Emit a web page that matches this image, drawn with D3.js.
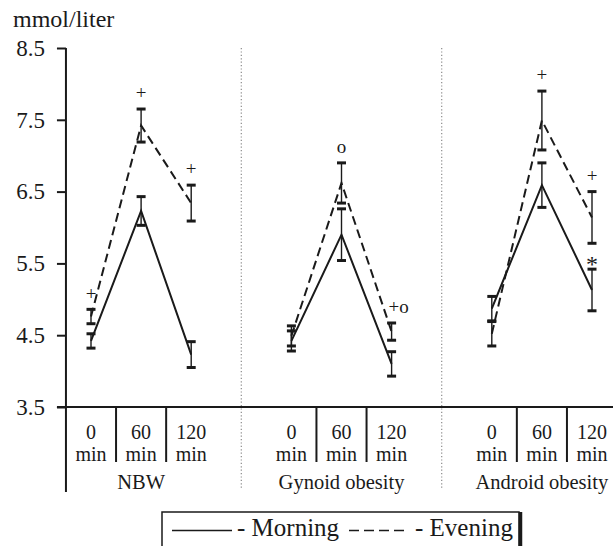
<!DOCTYPE html>
<html>
<head>
<meta charset="utf-8">
<script src="https://cdn.jsdelivr.net/npm/d3@7"></script>
<style>
  body { margin: 0; background: #fff; }
  svg text { font-family: "Liberation Serif", "Times New Roman", serif; fill: #1a1a1a; }
</style>
</head>
<body>
<div id="chart-area"></div>
<script>
// categories
var groups = ["NBW", "Gynoid obesity", "Android obesity"];
var times = ["0", "60", "120"];
var yTicks = [3.5, 4.5, 5.5, 6.5, 7.5, 8.5];

// values per point: NBW 0/60/120, Gynoid 0/60/120, Android 0/60/120
var morningMean = [4.42, 6.23, 4.23, 4.42, 5.90, 4.10, 4.87, 6.59, 5.13];
var morningSE = [0.10, 0.20, 0.18, 0.14, 0.36, 0.17, 0.17, 0.31, 0.29];
var eveningMean = [4.76, 7.42, 6.34, 4.49, 6.62, 4.55, 4.52, 7.49, 6.14];
var eveningSE = [0.10, 0.23, 0.25, 0.14, 0.28, 0.12, 0.17, 0.41, 0.36];

// significance marks
var markText = ["+", "+", "+", "o", "+o", "+", "+", "*"];
var markSeries = ["Evening", "Evening", "Evening", "Evening", "Evening", "Evening", "Evening", "Morning"];
var markPoint = [0, 1, 2, 4, 5, 7, 8, 8];

var series = [
  { name: "Morning", mean: morningMean, se: morningSE, dash: null },
  { name: "Evening", mean: eveningMean, se: eveningSE, dash: "9,5" }
];

var W = 613, H = 546;
var ink = "#1a1a1a";

// slot = group*4 + time (one empty slot between groups)
function slot(i) {
  return Math.floor(i / 3) * 4 + (i % 3);
}

var x = d3.scaleLinear().domain([0, 10]).range([91, 592]);
var y = d3.scaleLinear().domain([3.5, 8.5]).range([407, 48]);

var svg = d3
  .select("#chart-area")
  .append("svg")
  .attr("width", W)
  .attr("height", H);

var axisX = x(-0.5);

// y axis title
svg.append("text")
  .attr("x", 13)
  .attr("y", 27)
  .attr("font-size", "24px")
  .text("mmol/liter");

// y axis ticks
var yAxis = d3.axisLeft(y)
  .tickValues(yTicks)
  .tickFormat(d3.format(".1f"))
  .tickSize(9)
  .tickPadding(12);

var yg = svg.append("g")
  .attr("transform", "translate(" + axisX + ",0)")
  .call(yAxis);
yg.select(".domain").remove();
yg.selectAll(".tick line").attr("stroke", ink).attr("stroke-width", 2);
yg.selectAll(".tick text")
  .attr("font-size", "23px")
  .attr("font-family", "Liberation Serif, Times New Roman, serif")
  .attr("fill", ink);

// dotted group separators
[3, 7].forEach(function (s) {
  svg.append("line")
    .attr("x1", x(s)).attr("x2", x(s))
    .attr("y1", y(8.5)).attr("y2", 489)
    .attr("stroke", "#8a8a8a")
    .attr("stroke-width", 1.2)
    .attr("stroke-dasharray", "1.2,2.2");
});

// left axis line, extended into label area
svg.append("line")
  .attr("x1", axisX).attr("x2", axisX)
  .attr("y1", y(8.5)).attr("y2", 492)
  .attr("stroke", ink).attr("stroke-width", 2);

// baseline at 3.5
svg.append("line")
  .attr("x1", axisX - 9).attr("x2", W)
  .attr("y1", y(3.5)).attr("y2", y(3.5))
  .attr("stroke", ink).attr("stroke-width", 2);

// time label boxes and labels
groups.forEach(function (g, gi) {
  [0.5, 1.5].forEach(function (o) {
    svg.append("line")
      .attr("x1", x(gi * 4 + o)).attr("x2", x(gi * 4 + o))
      .attr("y1", y(3.5)).attr("y2", 462)
      .attr("stroke", ink).attr("stroke-width", 2);
  });
  times.forEach(function (t, ti) {
    var cx = x(gi * 4 + ti);
    svg.append("text")
      .attr("x", cx).attr("y", 439)
      .attr("text-anchor", "middle")
      .attr("font-size", "20px")
      .text(t);
    svg.append("text")
      .attr("x", cx).attr("y", 461)
      .attr("text-anchor", "middle")
      .attr("font-size", "20px")
      .text("min");
  });
  svg.append("text")
    .attr("x", x(gi * 4 + 1)).attr("y", 489)
    .attr("text-anchor", "middle")
    .attr("font-size", "20.5px")
    .text(g);
});

// series lines (separate per group)
var line = d3.line()
  .x(function (d) { return x(slot(d.i)); })
  .y(function (d) { return y(d.v); });

series.forEach(function (s) {
  groups.forEach(function (g, gi) {
    var pts = [0, 1, 2].map(function (t) {
      var i = gi * 3 + t;
      return { i: i, v: s.mean[i] };
    });
    svg.append("path")
      .datum(pts)
      .attr("d", line)
      .attr("fill", "none")
      .attr("stroke", ink)
      .attr("stroke-width", 2)
      .attr("stroke-dasharray", s.dash);
  });
});

// error bars
series.forEach(function (s) {
  var eb = svg.append("g").attr("class", "err-" + s.name);
  s.mean.forEach(function (m, i) {
    var cx = x(slot(i));
    var top = y(m + s.se[i]);
    var bot = y(m - s.se[i]);
    eb.append("line")
      .attr("x1", cx).attr("x2", cx)
      .attr("y1", top).attr("y2", bot)
      .attr("stroke", ink).attr("stroke-width", 1.4);
    [top, bot].forEach(function (cy) {
      eb.append("line")
        .attr("x1", cx - 4.5).attr("x2", cx + 4.5)
        .attr("y1", cy).attr("y2", cy)
        .attr("stroke", ink).attr("stroke-width", 3);
    });
  });
});

// significance marks above the upper cap
markText.forEach(function (t, k) {
  var s = markSeries[k] == "Morning" ? series[0] : series[1];
  var i = markPoint[k];
  var top = y(s.mean[i] + s.se[i]);
  var lift = t == "*" ? 9 : 15;
  svg.append("text")
    .attr("x", t.length > 1 ? x(slot(i)) - 3 : x(slot(i)))
    .attr("y", top - lift)
    .attr("dy", t == "*" ? "0.5em" : "0.28em")
    .attr("text-anchor", t.length > 1 ? "start" : "middle")
    .attr("font-size", t == "*" ? "24px" : "19px")
    .text(t);
});

// legend
var lg = svg.append("g");
lg.append("rect")
  .attr("x", 162).attr("y", 512)
  .attr("width", 357).attr("height", 60)
  .attr("fill", "none")
  .attr("stroke", ink).attr("stroke-width", 1.5);
lg.append("line")
  .attr("x1", 520.5).attr("x2", 520.5)
  .attr("y1", 512).attr("y2", H)
  .attr("stroke", ink).attr("stroke-width", 3.5);
lg.append("line")
  .attr("x1", 172).attr("x2", 232)
  .attr("y1", 530.5).attr("y2", 530.5)
  .attr("stroke", ink).attr("stroke-width", 1.5);
lg.append("text")
  .attr("x", 237).attr("y", 536)
  .attr("font-size", "25px")
  .text("- Morning");
lg.append("line")
  .attr("x1", 349).attr("x2", 407)
  .attr("y1", 530.5).attr("y2", 530.5)
  .attr("stroke", ink).attr("stroke-width", 1.5)
  .attr("stroke-dasharray", "10,5");
lg.append("text")
  .attr("x", 415).attr("y", 536)
  .attr("font-size", "25px")
  .text("- Evening");
</script>
</body>
</html>
